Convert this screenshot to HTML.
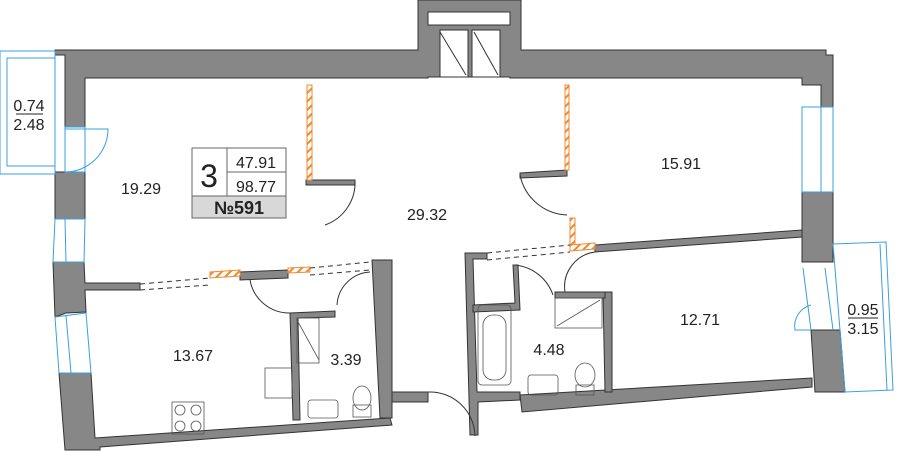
<!DOCTYPE html>
<html><head><meta charset="utf-8"><style>
html,body{margin:0;padding:0;background:#fff;width:899px;height:451px;overflow:hidden}
svg{display:block}
text{font-family:"Liberation Sans",sans-serif;fill:#222}
</style></head><body>
<svg width="899" height="451" viewBox="0 0 899 451" xmlns="http://www.w3.org/2000/svg">
<defs>
<pattern id="h" width="6" height="6" patternUnits="userSpaceOnUse" patternTransform="rotate(45)">
<rect width="6" height="6" fill="#fff"/><rect width="2" height="6" fill="#f08a30"/></pattern>
</defs>
<g fill="#878787" stroke="#333" stroke-width="1">
<path d="M418 0 H521 V50 H826 V55 H833 V107 H821 V85 H802 V78 H510 V77 H500 V30 H472 V77 H468 V30 H440 V77 H428 V78 H85 V127 H65 V55 H55 V50 H418 Z"/>
<rect x="55" y="172" width="30" height="47"/>
<path d="M53 262 H84 L85 283 H140 V290 H85 L86 312 L66 313 L55 317 Z"/>
<path d="M59 373 H91 L95 438 L390 418 L392 425 L100 447 L100 450 L65 450 Z"/>
<path d="M372 260 H392 V418 H380 Z"/>
<path d="M392 392 H428 V402 H392 Z"/>
<path d="M240 272 L288 270 L288 278 L240 280 Z"/>
<path d="M290 313 L335 311 L335 317 L298 318 L300 420 L293 420 Z"/>
<path d="M306 180 H355 V185 H306 Z"/>
<path d="M520 173 L567 170 L567 176 L520 178 Z"/>
<path d="M465 253 H487 V259 H473 L477 392 H520 V400 L478 402 L478 435 L470 435 Z"/>
<path d="M473 305 L515 303 L513 265 L518 265 L520 310 L473 312 Z"/>
<path d="M520 395 L812 378 L812 387 L522 412 Z"/>
<path d="M595 245 L802 230 L802 237 L595 252 Z"/>
<path d="M603 292 H612 V392 H605 Z"/>
<path d="M555 292 H605 V298 H555 Z"/>
<rect x="802" y="192" width="31" height="70"/>
<path d="M811 330 H840 L845 392 H815 Z"/>
</g>
<rect x="428" y="12" width="82" height="13" fill="#fff" stroke="#333"/>
<g stroke="#333" fill="#fff" stroke-width="1">
<rect x="440" y="30" width="28" height="47"/><line x1="440" y1="32" x2="466" y2="75"/>
<rect x="472" y="30" width="28" height="47"/><line x1="474" y1="32" x2="498" y2="75"/>
</g>
<g fill="url(#h)" stroke="#f08a30">
<rect x="307" y="85" width="5" height="95"/>
<rect x="565" y="85" width="4" height="85"/>
<rect x="570" y="218" width="5" height="28"/>
<path d="M210 272 L240 270 L240 276 L210 278 Z"/>
<path d="M288 268 L310 267 L310 272 L288 273 Z"/>
<path d="M570 245 L595 243 L595 249 L570 251 Z"/>
</g>
<g stroke="#333" stroke-dasharray="5,4" fill="none">
<line x1="140" y1="284" x2="210" y2="278"/><line x1="140" y1="290" x2="210" y2="285"/>
<line x1="310" y1="268" x2="370" y2="262"/><line x1="310" y1="275" x2="370" y2="270"/>
<line x1="487" y1="253" x2="570" y2="245"/><line x1="487" y1="260" x2="570" y2="252"/>
</g>
<g stroke="#333" fill="none" stroke-width="1">
<path d="M355 180 A45 45 0 0 1 325 225"/>
<path d="M520 175 A50 50 0 0 0 567 215"/>
<path d="M250 280 A40 40 0 0 0 290 313"/>
<path d="M370 272 A35 35 0 0 0 337 305"/>
<path d="M515 265 A45 45 0 0 1 553 295"/>
<path d="M595 252 A35 35 0 0 0 565 292"/>
<path d="M428 392 A45 45 0 0 1 475 436"/>
</g>
<g stroke="#3aa0e0" fill="#fff" stroke-width="1">
<rect x="0" y="51" width="55" height="123"/>
<rect x="7" y="58" width="48" height="108" fill="none"/>
<rect x="65" y="127" width="20" height="45" fill="none"/>
<path d="M65 172 A43 43 0 0 0 108 129 H65" fill="none"/>
<path d="M55 219 L85 219 L84 262 L53 262 Z" fill="none"/>
<line x1="65" y1="219" x2="66" y2="262"/>
<path d="M55 317 L86 313 L91 373 L59 373 Z" fill="none"/>
<line x1="66" y1="315" x2="71" y2="373"/>
<rect x="802" y="107" width="31" height="85" fill="none"/><line x1="821" y1="107" x2="821" y2="192"/>
<path d="M833 244 L886 242 L893 390 L845 392 Z" fill="none"/>
<path d="M880 244 L887 390"/>
<line x1="803" y1="268" x2="811" y2="330"/><line x1="825" y1="268" x2="833" y2="330"/>
<path d="M811 330 H795 A22 22 0 0 1 811 305" fill="none"/>
</g>
<g stroke="#555" fill="none" stroke-width="0.8">
<rect x="265" y="368" width="27" height="30"/>
<rect x="172" y="402" width="32" height="32"/>
<circle cx="180" cy="410" r="5"/><circle cx="196" cy="410" r="5"/><circle cx="180" cy="426" r="5"/><circle cx="196" cy="426" r="5"/>
<rect x="297" y="318" width="22" height="45"/><line x1="297" y1="320" x2="319" y2="360"/>
<rect x="308" y="400" width="30" height="18" rx="3"/>
<ellipse cx="362" cy="398" rx="9" ry="12"/><rect x="353" y="405" width="18" height="12"/>
<rect x="478" y="305" width="33" height="80" rx="4"/><rect x="483" y="315" width="23" height="65" rx="10"/>
<rect x="528" y="375" width="30" height="20" rx="3"/>
<ellipse cx="585" cy="375" rx="10" ry="12"/><rect x="576" y="385" width="18" height="10"/>
<rect x="555" y="298" width="47" height="30"/><line x1="557" y1="326" x2="600" y2="300"/>
</g>
<g font-size="16">
<text x="29" y="111" text-anchor="middle">0.74</text>
<line x1="16" y1="114" x2="43" y2="114" stroke="#222"/>
<text x="29" y="130" text-anchor="middle">2.48</text>
<text x="863" y="315" text-anchor="middle">0.95</text>
<line x1="848" y1="318" x2="878" y2="318" stroke="#222"/>
<text x="863" y="334" text-anchor="middle">3.15</text>
<text x="141" y="194" text-anchor="middle">19.29</text>
<text x="427" y="220" text-anchor="middle">29.32</text>
<text x="681" y="169" text-anchor="middle">15.91</text>
<text x="193" y="361" text-anchor="middle">13.67</text>
<text x="346" y="365" text-anchor="middle">3.39</text>
<text x="549" y="355" text-anchor="middle">4.48</text>
<text x="700" y="325" text-anchor="middle">12.71</text>
</g>
<g stroke="#666" fill="#fff">
<rect x="192" y="148" width="94" height="70"/>
<rect x="192" y="196" width="94" height="22" fill="#d8d8d8"/>
<line x1="227" y1="148" x2="227" y2="196"/>
<line x1="227" y1="172" x2="286" y2="172"/>
</g>
<text x="209" y="187" font-size="32" text-anchor="middle">3</text>
<text x="256" y="168" font-size="16" text-anchor="middle">47.91</text>
<text x="256" y="192" font-size="16" text-anchor="middle">98.77</text>
<text x="239" y="214" font-size="18" font-weight="bold" text-anchor="middle">№591</text>
</svg>
</body></html>
